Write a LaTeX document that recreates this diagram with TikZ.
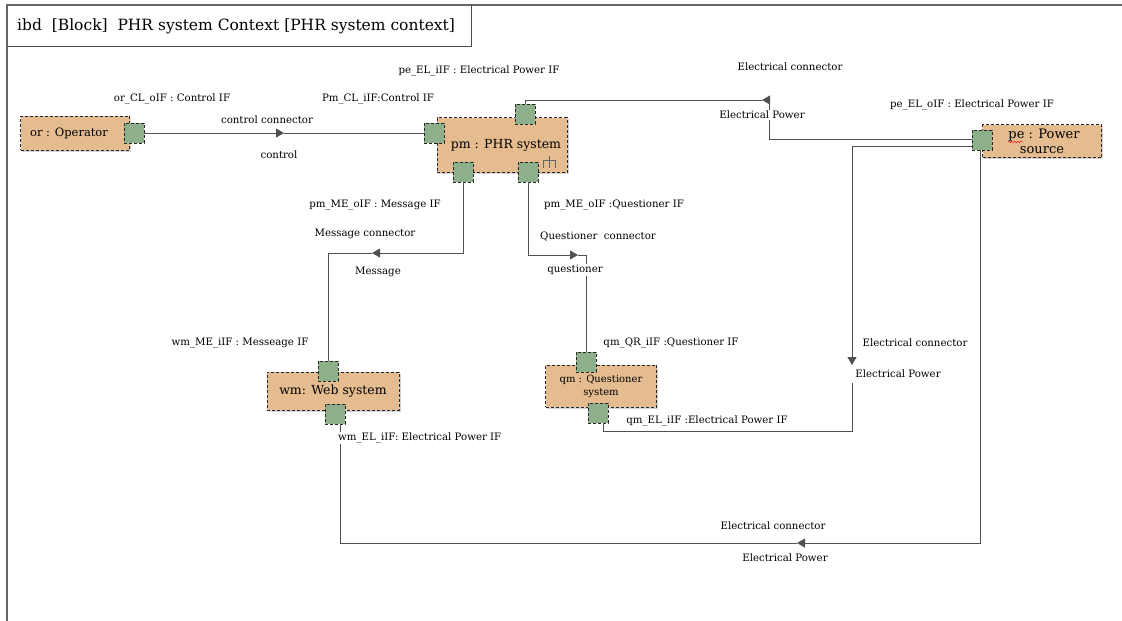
\documentclass[tikz,border=0pt]{standalone}
\usepackage{fontspec}
\setmainfont{DejaVu Serif}
\usetikzlibrary{arrows.meta,shadows,decorations.pathmorphing}
\definecolor{blockfill}{RGB}{228,188,143}
\definecolor{portfill}{RGB}{141,176,138}
\definecolor{wiregray}{RGB}{80,80,80}

\begin{document}
\begin{tikzpicture}[x=1pt, y=-1pt,
    blk/.style={draw=black!85, densely dashed, fill=blockfill, align=center, inner sep=1pt,
      drop shadow={shadow xshift=1.5pt, shadow yshift=-1.5pt, opacity=0.35}},
    port/.style={draw=black!85, densely dashed, fill=portfill, minimum size=20pt, inner sep=0pt},
    wire/.style={draw=wiregray, line width=0.9pt},
    tip/.style={-{Triangle[length=8pt,width=9pt]}},
    lbl/.style={font=\fontsize{10.2}{12}\selectfont, inner sep=1pt}]
    \useasboundingbox (0,0) rectangle (1122,621);

    % frame and heading
    \draw[line width=1.4pt, black!60] (7,621) -- (7,5) -- (1122,5);
    \draw[line width=1pt, black!70] (7,46) -- (471,46) -- (471,5);
    \node[anchor=west, inner sep=0pt, font=\fontsize{15.5}{18}\selectfont] (title) at (17,26)
        {ibd\ \ [Block]\ \ PHR system Context [PHR system context]};

    % blocks
    \node[blk, minimum width=109pt, minimum height=34pt, font=\fontsize{11.5}{13}\selectfont] (or) at (75,133) {or : Operator\hspace{12pt}};
    \node[blk, minimum width=130pt, minimum height=55pt, font=\fontsize{12.5}{15}\selectfont] (pm) at (502,145) {\hspace{8pt}pm : PHR system};
    \node[blk, minimum width=119pt, minimum height=33pt, font=\fontsize{13}{15}\selectfont] (pe) at (1042,141) {\hspace{4pt}pe : Power\\source};
    \node[blk, minimum width=132pt, minimum height=38pt, font=\fontsize{12.5}{15}\selectfont] (wm) at (333,391) {wm: Web system};
    \node[blk, minimum width=111pt, minimum height=42pt, font=\fontsize{10}{13}\selectfont] (qm) at (601,386) {qm : Questioner\\system};

    % part icon and spell mark
    \draw[black!60, line width=0.9pt] (543,168) -- (543,160) -- (555,160) -- (555,168)
        (549,156) -- (549,168);
    \draw[red, decorate, decoration={snake, amplitude=0.7pt, segment length=3pt}] (1008,142) -- (1023,142);

    % ports
    \node[port] (orCL) at (134,133) {};
    \node[port] (pmCL) at (434,133) {};
    \node[port] (pmEL) at (525,114) {};
    \node[port] (pmME) at (463,172) {};
    \node[port] (pmQR) at (528,172) {};
    \node[port] (peEL) at (982,140) {};
    \node[port] (wmME) at (328,371) {};
    \node[port] (wmEL) at (335,414) {};
    \node[port] (qmQR) at (586,362) {};
    \node[port] (qmEL) at (598,413) {};

    % connectors
    \coordinate (ctrlArr) at (284,133);
    \coordinate (eTopArr) at (762,100);
    \coordinate (msgArr) at (372,253);
    \coordinate (qArr) at (578,255);
    \coordinate (eRArr) at (852,365);
    \coordinate (eRGo) at (852,383);
    \coordinate (eBArr) at (797,543);

    \draw[wire, tip] (orCL.east) -- (ctrlArr);
    \draw[wire] (ctrlArr) -- (pmCL.west);

    \draw[wire, tip] ([yshift=1pt]peEL.west) -| (769,100) -- (eTopArr);
    \draw[wire] (eTopArr) -| (pmEL.north);

    \draw[wire, tip] (pmME.south) |- (msgArr);
    \draw[wire] (msgArr) -| (wmME.north);

    \draw[wire, tip] (pmQR.south) |- (qArr);
    \draw[wire] (qArr) -| (qmQR.north);

    \draw[wire, tip] ([yshift=-6pt]peEL.west) -| (eRArr);
    \draw[wire] ([xshift=5pt]qmEL.south) -- ++(0,8) -| (eRGo);

    \draw[wire, tip] ([xshift=-2pt]peEL.south) |- (eBArr);
    \draw[wire] (eBArr) -| ([xshift=5pt]wmEL.south);

    % labels
    \node[lbl] (lorCL) at (172,99) {or\_CL\_oIF : Control IF};
    \node[lbl] (lpmCL) at (378,99) {Pm\_CL\_iIF:Control IF};
    \node[lbl] (lctrlc) at (267,120) {control connector};
    \node[lbl] (lctrl) at (279,155) {control};
    \node[lbl] (lpmEL) at (479,71) {pe\_EL\_iIF : Electrical Power IF};
    \node[lbl] (letopc) at (790,67) {Electrical connector};
    \node[lbl, fill=white] (letop) at (762,115) {Electrical Power};
    \node[lbl] (lpeEL) at (972,105) {pe\_EL\_oIF : Electrical Power IF};
    \node[lbl] (lpmME) at (375,205) {pm\_ME\_oIF : Message IF};
    \node[lbl] (lmsgc) at (365,234) {Message connector};
    \node[lbl] (lmsg) at (378,272) {Message};
    \node[lbl] (lpmQR) at (614,205) {pm\_ME\_oIF :Questioner IF};
    \node[lbl] (lqc) at (598,237) {Questioner\ \ connector};
    \node[lbl, fill=white] (lq) at (575,270) {questioner};
    \node[lbl] (lwmME) at (240,343) {wm\_ME\_iIF : Messeage IF};
    \node[lbl] (lqmQR) at (671,343) {qm\_QR\_iIF :Questioner IF};
    \node[lbl] (lerc) at (915,343) {Electrical connector};
    \node[lbl] (ler) at (898,374) {Electrical Power};
    \node[lbl] (lqmEL) at (707,421) {qm\_EL\_iIF :Electrical Power IF};
    \node[lbl, fill=white, anchor=west] (lwmEL) at (337,438) {wm\_EL\_iIF: Electrical Power IF};
    \node[lbl] (lebc) at (773,526) {Electrical connector};
    \node[lbl] (leb) at (785,558) {Electrical Power};
\end{tikzpicture}
\end{document}
